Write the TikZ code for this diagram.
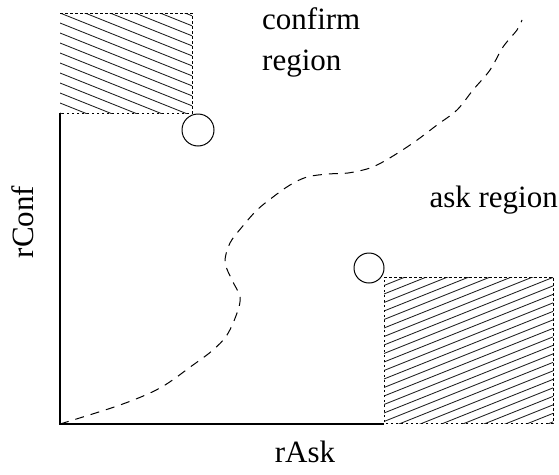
\documentclass[tikz,border=0pt]{standalone}
\usepackage{fontspec}
\setmainfont{Liberation Serif}
\begin{document}
\begin{tikzpicture}[x=1pt,y=-1pt,
  lbl/.style={font=\fontsize{31}{36}\selectfont, inner sep=0pt},
  hole/.style={circle, draw, line width=1pt, inner sep=0pt},
  axis/.style={line width=1.5pt},
  bound/.style={line width=0.8pt, dash pattern=on 2.5pt off 2.5pt},
  hatch/.style={line width=0.9pt, black!85},
  boundary/.style={line width=1pt, dash pattern=on 9pt off 7pt}]
\useasboundingbox (0,0) rectangle (559,474);
% top hatched region
\begin{scope}
\clip (60,13) rectangle (192,113);
\foreach \k in {-6,...,11} \draw[hatch] (60,{13+10*\k}) -- (192,{13+10*\k+52.8});
\end{scope}
\draw[bound] (60,13) -- (192,13) -- (192,113) -- (60,113);
% bottom hatched region
\begin{scope}
\clip (384,277) rectangle (553,423);
\foreach \k in {0,...,26} \draw[hatch] (384,{277+8.5*\k}) -- (553,{277+8.5*\k-67.6});
\end{scope}
\draw[bound] (384,277) -- (553,277) -- (553,423) -- (384,423) -- cycle;
% axes
\coordinate (ytop) at (60,113);
\coordinate (o) at (60,424);
\coordinate (xend) at (384,424);
\draw[axis] (ytop) -- (o) -- (xend);
% circles
\node[hole, minimum size=32pt] (c1) at (198,130) {};
\node[hole, minimum size=30pt] (c2) at (369,268) {};
% boundary curve
\draw[boundary] plot[smooth, tension=0.55] coordinates {
(60,424) (120,405) (160,388) (193,365) (213,350) (227,335) (237,313) (240,297)
(232,280) (225,262) (230,243) (242,227) (257,210) (273,197) (290,185) (307,177)
(328,174) (348,173) (370,168) (388,159) (413,143) (437,125) (457,110) (473,90)
(490,70) (503,47) (517,30) (522,20)};
% labels
\node[lbl, anchor=base west] (conf) at (262,29) {confirm};
\node[lbl, anchor=base west] (reg) at (262,70) {region};
\node[lbl, anchor=base east] (ask) at (558,207) {ask region};
\node[lbl, anchor=base] (rask) at (305,462) {rAsk};
\node[lbl, rotate=90, anchor=base] (rconf) at (33,222) {rConf};
\end{tikzpicture}
\end{document}
